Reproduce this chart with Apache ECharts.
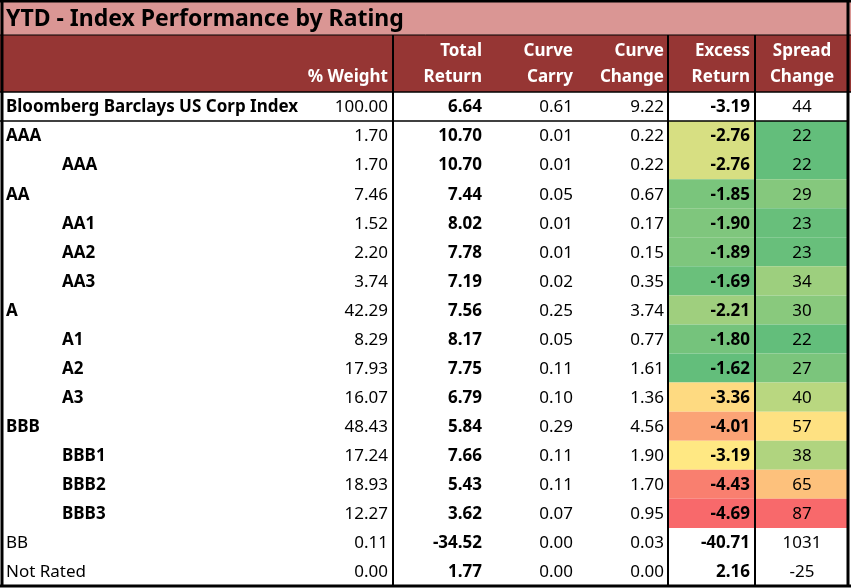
<!DOCTYPE html>
<html>
<head>
<meta charset="utf-8">
<script src="https://cdn.jsdelivr.net/npm/echarts@6/dist/echarts.min.js"></script>
<style>html,body{margin:0;padding:0;background:#fff}#chart{width:851px;height:588px}</style>
</head>
<body>
<div id="chart"></div>
<script>
const ratings = ['Bloomberg Barclays US Corp Index', 'AAA', 'AAA', 'AA', 'AA1', 'AA2', 'AA3', 'A', 'A1', 'A2', 'A3', 'BBB', 'BBB1', 'BBB2', 'BBB3', 'BB', 'Not Rated'];
const indented = [false, false, true, false, true, true, true, false, true, true, true, false, true, true, true, false, false];
const boldLabel = [true, true, true, true, true, true, true, true, true, true, true, true, true, true, true, false, false];
const weight = ['100.00', '1.70', '1.70', '7.46', '1.52', '2.20', '3.74', '42.29', '8.29', '17.93', '16.07', '48.43', '17.24', '18.93', '12.27', '0.11', '0.00'];
const totalReturn = ['6.64', '10.70', '10.70', '7.44', '8.02', '7.78', '7.19', '7.56', '8.17', '7.75', '6.79', '5.84', '7.66', '5.43', '3.62', '-34.52', '1.77'];
const curveCarry = ['0.61', '0.01', '0.01', '0.05', '0.01', '0.01', '0.02', '0.25', '0.05', '0.11', '0.10', '0.29', '0.11', '0.11', '0.07', '0.00', '0.00'];
const curveChange = ['9.22', '0.22', '0.22', '0.67', '0.17', '0.15', '0.35', '3.74', '0.77', '1.61', '1.36', '4.56', '1.90', '1.70', '0.95', '0.03', '0.00'];
const excessReturn = ['-3.19', '-2.76', '-2.76', '-1.85', '-1.90', '-1.89', '-1.69', '-2.21', '-1.80', '-1.62', '-3.36', '-4.01', '-3.19', '-4.43', '-4.69', '-40.71', '2.16'];
const spreadChange = ['44', '22', '22', '29', '23', '23', '34', '30', '22', '27', '40', '57', '38', '65', '87', '1031', '-25'];
const headers = [['', ''], ['', '% Weight'], ['Total', 'Return'], ['Curve', 'Carry'], ['Curve', 'Change'], ['Excess', 'Return'], ['Spread', 'Change']];

// layout
const colEdges = [0, 300, 393, 487, 578, 668, 755, 848];
const colLeft = [0, 300, 393, 487, 578, 668, 755];
const colRight = [0, 388, 482, 573, 664, 750, 802];
const FONT = '"Noto Sans", sans-serif';

// excel style 3-colour scale
const GREEN = [99, 190, 123], YELLOW = [255, 235, 132], RED = [248, 105, 107];
const mix = (a, b, t) => 'rgb(' + a.map((v, i) => Math.round(v + (b[i] - v) * t)).join(',') + ')';
const scale = (v, lo, hi, lowIsGreen) => {
  let t = (v - lo) / (hi - lo);
  if (!lowIsGreen) t = 1 - t;
  return t < 0.5 ? mix(GREEN, YELLOW, t * 2) : mix(YELLOW, RED, (t - 0.5) * 2);
};
const colored = (r) => r >= 1 && r <= 14;
const exVals = excessReturn.slice(1, 15).map(Number);
const spVals = spreadChange.slice(1, 15).map(Number);
const exLo = Math.min(...exVals), exHi = Math.max(...exVals);
const spLo = Math.min(...spVals), spHi = Math.max(...spVals);

const columns = [ratings, weight, totalReturn, curveCarry, curveChange, excessReturn, spreadChange];
const cells = [];
columns.forEach((col, c) => col.forEach((v, r) => cells.push([c, r, v])));

const renderItem = (params, api) => {
  const c = api.value(0), r = api.value(1);
  const text = columns[c][r];
  const tl = api.coord([colLeft[c], r]);
  const br = api.coord([colEdges[c + 1], r + 1]);
  const cy = (tl[1] + br[1]) / 2 + 1;
  const children = [];
  if ((c === 5 || c === 6) && colored(r)) {
    const fill = c === 5 ? scale(Number(text), exLo, exHi, false) : scale(Number(text), spLo, spHi, true);
    children.push({ type: 'rect', shape: { x: tl[0], y: tl[1], width: br[0] - tl[0], height: br[1] - tl[1] }, style: { fill } });
  }
  let bold = c === 2 || c === 5;
  let x = colRight[c], align = 'right';
  if (c === 0) { x = indented[r] ? 62 : 6; align = 'left'; bold = boldLabel[r]; }
  if (c === 6) align = 'center';
  children.push({
    type: 'text',
    style: { x, y: cy, text, textAlign: align, textVerticalAlign: 'middle', fill: '#000', font: (bold ? 'bold ' : '') + '17px ' + FONT },
    clipPath: c === 0 ? { type: 'rect', shape: { x: 0, y: tl[1], width: 300, height: br[1] - tl[1] } } : undefined
  });
  return { type: 'group', children };
};

const graphics = [
  { type: 'rect', shape: { x: 0, y: 0, width: 851, height: 35 }, style: { fill: '#DA9694' } },
  { type: 'rect', shape: { x: 0, y: 35, width: 851, height: 57 }, style: { fill: '#963634' } },
  { type: 'text', style: { x: 6, y: 19, text: 'YTD - Index Performance by Rating', textVerticalAlign: 'middle', font: 'bold 23px ' + FONT, fill: '#000' } }
];
headers.forEach((h, c) => {
  h.forEach((t, i) => {
    if (!t) return;
    graphics.push({ type: 'text', style: { x: colRight[c], y: 51 + i * 26, text: t, textAlign: c === 6 ? 'center' : 'right', textVerticalAlign: 'middle', font: 'bold 17px ' + FONT, fill: '#fff' } });
  });
});
const lines = [
  [0, 92, 851, 92, 1.5], [0, 121, 848, 121, 1.5],
  [393, 35, 393, 585, 2], [668, 35, 668, 585, 2], [755, 35, 755, 585, 2],
  [2, 0, 2, 586, 3], [848, 0, 848, 586, 3], [0, 1, 851, 1, 3], [0, 586, 851, 586, 3], [0, 35, 851, 35, 1]
];
lines.forEach(([x1, y1, x2, y2, w]) => graphics.push({ type: 'line', z: 10, shape: { x1, y1, x2, y2 }, style: { stroke: '#000', lineWidth: w } }));

const chart = echarts.init(document.getElementById('chart'));
chart.setOption({
  animation: false,
  grid: { left: 0, top: 92, width: 851, height: 494 },
  xAxis: { type: 'value', min: 0, max: 851, show: false },
  yAxis: { type: 'value', min: 0, max: ratings.length, inverse: true, show: false },
  graphic: graphics,
  series: [{ type: 'custom', renderItem, data: cells, encode: { x: 0, y: 1 }, clip: false }]
});
</script>
</body>
</html>
